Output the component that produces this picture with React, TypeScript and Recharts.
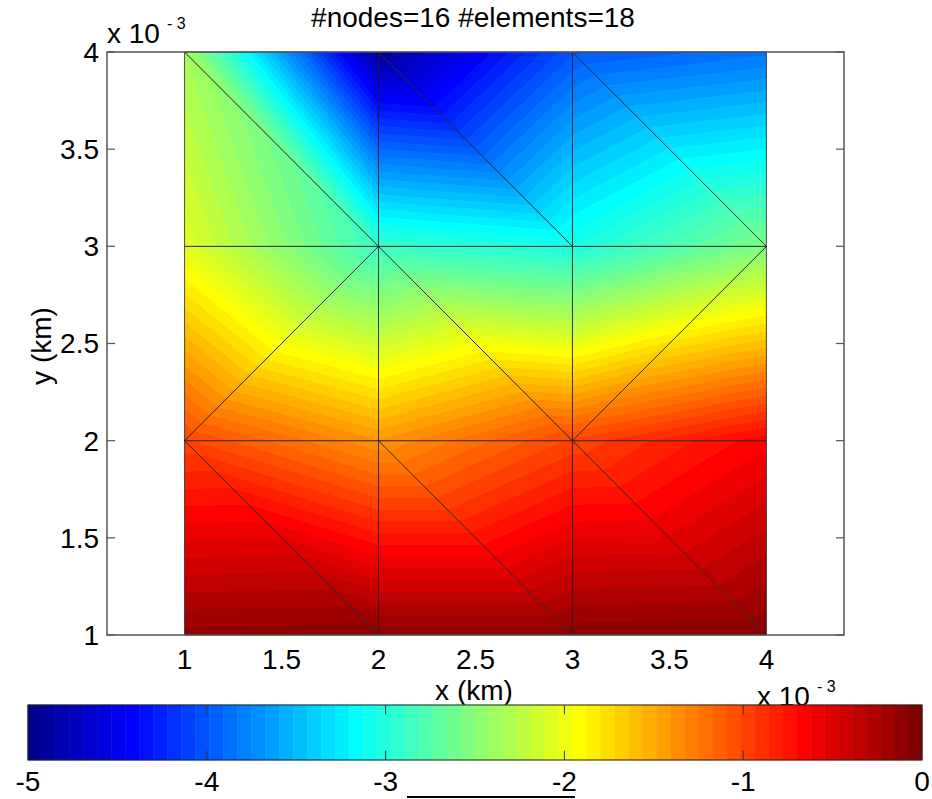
import React from "react";
import {
  ComposedChart,
  XAxis,
  YAxis,
  Scatter,
  ReferenceArea,
  ReferenceLine,
  Customized,
} from "recharts";

// ----- data (x, y in 10^-3 km, values in 10^-3) -----

const X_NODES = [1, 2, 3, 4];
const Y_NODES = [1, 2, 3, 4];
// one row per y node, bottom to top
const NODE_VALUES = [
  [-0.12, -0.1, -0.1, -0.08],
  [-1.0, -1.4, -1.0, -0.65],
  [-2.05, -2.9, -3.05, -2.55],
  [-2.35, -4.9, -4.0, -3.85],
];
// node index = row * 4 + col
const ELEMENTS = [
  [0, 1, 4], [1, 5, 4], [1, 2, 5], [2, 6, 5], [2, 3, 6], [3, 7, 6],
  [4, 5, 9], [4, 9, 8], [5, 6, 9], [6, 10, 9], [6, 7, 11], [6, 11, 10],
  [8, 9, 12], [9, 13, 12], [9, 10, 13], [10, 14, 13], [10, 11, 14], [11, 15, 14],
];

const X_LIMITS = [0.6, 4.4];
const Y_LIMITS = [1, 4];
const X_TICKS = [1, 1.5, 2, 2.5, 3, 3.5, 4];
const Y_TICKS = [1, 1.5, 2, 2.5, 3, 3.5, 4];
const C_LIMITS = [-5, 0];
const C_TICKS = [-5, -4, -3, -2, -1, 0];

const FONT = "'Liberation Sans', Arial, Helvetica, sans-serif";

const nodes = Y_NODES.flatMap((y, r) =>
  X_NODES.map((x, c) => ({ x, y, v: NODE_VALUES[r][c] }))
);

// matlab jet(64)
const clamp = (v: number) => Math.max(0, Math.min(1, v));
const JET: string[] = [];
for (let i = 1; i <= 64; i++) {
  const r = clamp(Math.min((i - 24) / 16, (72 - i) / 16, 1));
  const g = clamp(Math.min((i - 8) / 16, (56 - i) / 16, 1));
  const b = clamp(Math.min((i + 8) / 16, (40 - i) / 16, 1));
  JET.push(`rgb(${Math.round(r * 255)},${Math.round(g * 255)},${Math.round(b * 255)})`);
}
const STEP = (C_LIMITS[1] - C_LIMITS[0]) / JET.length;
const bandIndex = (v: number) =>
  Math.min(JET.length - 1, Math.max(0, Math.floor((v - C_LIMITS[0]) / STEP)));

function bandStops(vmin: number, vmax: number) {
  const range = vmax - vmin;
  const stops: { o: number; c: string }[] = [];
  for (let k = bandIndex(vmin); k <= bandIndex(vmax); k++) {
    const s = Math.max(vmin, C_LIMITS[0] + k * STEP);
    const e = Math.min(vmax, C_LIMITS[0] + (k + 1) * STEP);
    stops.push({ o: (s - vmin) / range, c: JET[k] }, { o: (e - vmin) / range, c: JET[k] });
  }
  return stops;
}

function bbox(el: number[]) {
  const xs = el.map((n) => nodes[n].x);
  const ys = el.map((n) => nodes[n].y);
  return { x1: Math.min(...xs), x2: Math.max(...xs), y1: Math.min(...ys), y2: Math.max(...ys) };
}

// triangle drawn inside the reference area rect, gouraud-like banded fill
function TriShape(props: any) {
  const { x, y, width, height, el, idx } = props;
  const bb = bbox(el);
  const pts = el.map((n: number) => {
    const nd = nodes[n];
    return {
      px: x + ((nd.x - bb.x1) / (bb.x2 - bb.x1)) * width,
      py: y + ((bb.y2 - nd.y) / (bb.y2 - bb.y1)) * height,
      v: nd.v,
    };
  });
  const [p0, p1, p2] = pts;
  const e1x = p1.px - p0.px, e1y = p1.py - p0.py;
  const e2x = p2.px - p0.px, e2y = p2.py - p0.py;
  const d1 = p1.v - p0.v, d2 = p2.v - p0.v;
  const det = e1x * e2y - e1y * e2x;
  const a = (d1 * e2y - e1y * d2) / det;
  const b = (e1x * d2 - d1 * e2x) / det;
  const vals = pts.map((p: any) => p.v);
  const vmin = Math.min(...vals);
  const vmax = Math.max(...vals);
  const pm = pts[vals.indexOf(vmin)];
  const g2 = a * a + b * b;
  const id = `tri-grad-${idx}`;
  const poly = pts.map((p: any) => `${p.px},${p.py}`).join(" ");
  if (vmax - vmin < 1e-9 || g2 === 0) {
    return <polygon points={poly} fill={JET[bandIndex(vmin)]} stroke="#1c1c1c" strokeWidth={0.9} strokeOpacity={0.85} />;
  }
  const t = (vmax - vmin) / g2;
  return (
    <g>
      <defs>
        <linearGradient id={id} gradientUnits="userSpaceOnUse" x1={pm.px} y1={pm.py} x2={pm.px + a * t} y2={pm.py + b * t}>
          {bandStops(vmin, vmax).map((s, i) => (
            <stop key={i} offset={s.o} stopColor={s.c} />
          ))}
        </linearGradient>
      </defs>
      <polygon
        points={poly}
        fill={`url(#${id})`}
        stroke="#1c1c1c"
        strokeWidth={0.9}
        strokeOpacity={0.85}
        strokeLinejoin="round"
      />
    </g>
  );
}

const TICK_MARGIN = 8;
const TICK_LEN = 8;

function LeftTick(props: any) {
  const { x, y, payload } = props;
  return (
    <g>
      <line x1={x + TICK_MARGIN} x2={x + TICK_MARGIN + TICK_LEN} y1={y} y2={y} stroke="#555" strokeWidth={1.2} />
      <text x={x} y={y} dy="0.355em" textAnchor="end" fontSize={28} fill="#000">
        {payload.value}
      </text>
    </g>
  );
}

function RightTick(props: any) {
  const { x, y } = props;
  return <line x1={x} x2={x - TICK_LEN} y1={y} y2={y} stroke="#555" strokeWidth={1.2} />;
}

const Annotations = () => (
  <g fontFamily={FONT} fill="#000">
    <text x={473} y={27} fontSize={28} textAnchor="middle">
      #nodes=16 #elements=18
    </text>
    <text x={107} y={43} fontSize={28}>
      x 10
      <tspan fontSize={16} dx={7} dy={-14}>
        - 3
      </tspan>
    </text>
    <text x={757} y={706} fontSize={28}>
      x 10
      <tspan fontSize={16} dx={7} dy={-14}>
        - 3
      </tspan>
    </text>
    <text x={474} y={700} fontSize={28} textAnchor="middle">
      x (km)
    </text>
    <text transform="translate(51,346) rotate(-90)" fontSize={28} textAnchor="middle">
      y (km)
    </text>
  </g>
);

const Underline = () => <line x1={407} x2={575} y1={117} y2={117} stroke="#000" strokeWidth={2} />;

const renderNothing = () => <g />;

function MeshPlot() {
  return (
    <ComposedChart width={932} height={710} margin={{ top: 52, right: 87, bottom: 0, left: 47 }} style={{ fontFamily: FONT }}>
      <XAxis
        dataKey="x"
        type="number"
        domain={X_LIMITS}
        ticks={X_TICKS}
        interval={0}
        allowDataOverflow
        axisLine={false}
        tickLine={false}
        tickSize={0}
        tickMargin={14}
        height={75}
        tick={{ fontSize: 28, fill: "#000" }}
      />
      <YAxis
        type="number"
        domain={Y_LIMITS}
        ticks={Y_TICKS}
        interval={0}
        allowDataOverflow
        axisLine={false}
        tickLine={false}
        tickSize={0}
        tickMargin={TICK_MARGIN}
        width={60}
        tick={LeftTick}
      />
      <YAxis
        yAxisId="r"
        orientation="right"
        type="number"
        domain={Y_LIMITS}
        ticks={Y_TICKS}
        interval={0}
        allowDataOverflow
        axisLine={false}
        tickLine={false}
        tickSize={0}
        tickMargin={0}
        width={1}
        tick={RightTick}
      />
      <Scatter data={nodes} dataKey="y" shape={renderNothing} isAnimationActive={false} />
      {ELEMENTS.map((el, i) => {
        const bb = bbox(el);
        return (
          <ReferenceArea
            key={`el-${i}`}
            x1={bb.x1}
            x2={bb.x2}
            y1={bb.y1}
            y2={bb.y2}
            shape={(p: any) => <TriShape {...p} el={el} idx={i} />}
          />
        );
      })}
      <ReferenceArea
        x1={X_LIMITS[0]}
        x2={X_LIMITS[1]}
        y1={Y_LIMITS[0]}
        y2={Y_LIMITS[1]}
        fill="none"
        fillOpacity={0}
        stroke="#555"
        strokeWidth={1.5}
      />
      <Customized component={Annotations} />
    </ComposedChart>
  );
}

function ColorBar() {
  const inner = C_TICKS.slice(1, -1);
  return (
    <ComposedChart width={932} height={119} margin={{ top: 25, right: 10, bottom: 0, left: 28 }} style={{ fontFamily: FONT }}>
      <XAxis
        dataKey="x"
        type="number"
        domain={C_LIMITS}
        ticks={C_TICKS}
        interval={0}
        allowDataOverflow
        axisLine={false}
        tickLine={false}
        tickSize={0}
        tickMargin={11}
        height={39}
        tick={{ fontSize: 28, fill: "#000" }}
      />
      <YAxis type="number" domain={[0, 1]} hide />
      <Scatter data={C_TICKS.map((t) => ({ x: t, y: 0 }))} dataKey="y" shape={renderNothing} isAnimationActive={false} />
      {JET.map((c, k) => (
        <ReferenceArea
          key={`band-${k}`}
          x1={C_LIMITS[0] + k * STEP}
          x2={C_LIMITS[0] + (k + 1) * STEP}
          y1={0}
          y2={1}
          fill={c}
          fillOpacity={1}
          stroke={c}
          strokeWidth={0.6}
        />
      ))}
      {inner.map((t) => (
        <ReferenceLine key={`tb-${t}`} segment={[{ x: t, y: 0 }, { x: t, y: 0.17 }]} stroke="#333" strokeWidth={1} />
      ))}
      {inner.map((t) => (
        <ReferenceLine key={`tt-${t}`} segment={[{ x: t, y: 1 }, { x: t, y: 0.83 }]} stroke="#333" strokeWidth={1} />
      ))}
      <ReferenceArea x1={C_LIMITS[0]} x2={C_LIMITS[1]} y1={0} y2={1} fill="none" fillOpacity={0} stroke="#222" strokeWidth={1.2} />
      <Customized component={Underline} />
    </ComposedChart>
  );
}

export default function App() {
  return (
    <div style={{ position: "absolute", left: 0, top: 0, width: 932, height: 799, background: "#fff", overflow: "hidden" }}>
      <div style={{ position: "absolute", left: 0, top: 0 }}>
        <MeshPlot />
      </div>
      <div style={{ position: "absolute", left: 0, top: 680 }}>
        <ColorBar />
      </div>
    </div>
  );
}
